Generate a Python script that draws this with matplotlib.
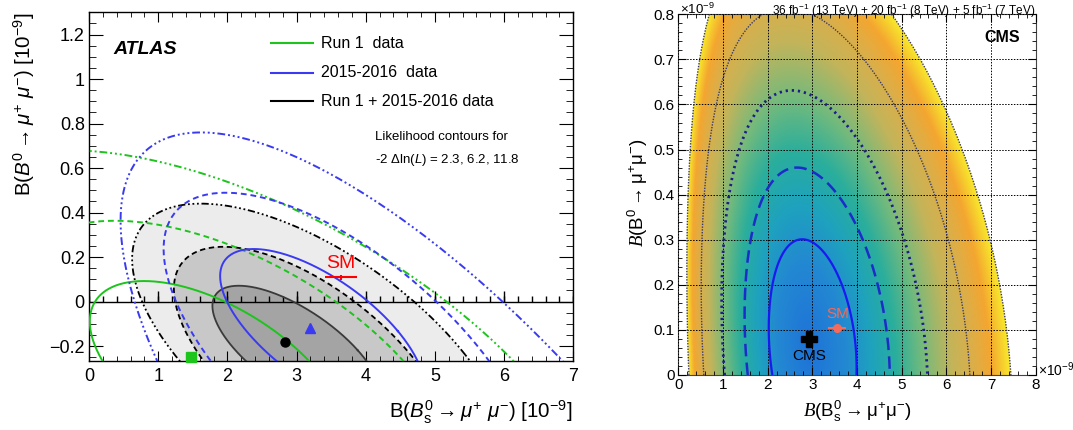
import numpy as np
import matplotlib
matplotlib.use("Agg")
import matplotlib.pyplot as plt
from matplotlib.colors import LinearSegmentedColormap

plt.rcParams['font.family'] = ['Liberation Sans', 'DejaVu Sans']
plt.rcParams['mathtext.fontset'] = 'custom'
plt.rcParams['mathtext.rm'] = 'Liberation Sans'
plt.rcParams['mathtext.it'] = 'Liberation Sans:italic'
plt.rcParams['mathtext.bf'] = 'Liberation Sans:bold'
plt.rcParams['mathtext.cal'] = 'Liberation Serif:italic'

# ---------------- ATLAS (left) ----------------
# contours as sheared ellipses: centre, half height b, half width w, shear s
# order: 2.3, 6.2, 11.8
run1_cx = [1.864, 2.134, 2.625]
run1_cy = [-0.338, -0.337, -0.320]
run1_b = [0.43, 0.70, 1.00]
run1_w = [1.513, 2.598, 3.669]
run1_s = [-2.486, -2.52, -2.925]

run2_cx = [3.37, 3.78, 5.42]
run2_cy = [-0.133, -0.271, -0.94]
run2_b = [0.369, 0.76, 1.70]
run2_w = [1.094, 2.012, 3.19]
run2_s = [-2.68, -2.372, -2.237]

comb_cx = [3.00, 3.23, 3.34]
comb_cy = [-0.219, -0.284, -0.24]
comb_b = [0.29, 0.53, 0.68]
comb_w = [0.884, 1.534, 2.10]
comb_s = [-2.88, -2.43, -2.535]

run1_best = (1.47, -0.248)
run2_best = (3.19, -0.12)
comb_best = (2.83, -0.183)
atlas_sm = (3.64, 0.109)
atlas_sm_xerr = 0.23

atlas_xticks = [0, 1, 2, 3, 4, 5, 6, 7]
atlas_yticks = [-0.2, 0, 0.2, 0.4, 0.6, 0.8, 1.0, 1.2]
atlas_ylabels = ['\u22120.2', '0', '0.2', '0.4', '0.6', '0.8', '1', '1.2']

# ---------------- CMS (right) ----------------
cms_power = 0.65
cms_u0 = 2.04
cms_shear = -0.33
cms_cy = 0.06
cms_su = 0.431
cms_sy = 0.241
cms_levels = [1.0, 1.66, 2.37, 3.13, 3.83]
cms_best = (2.93, 0.079)
cms_sm = (3.56, 0.104)
cms_sm_xerr = 0.2
cms_xticks = [0, 1, 2, 3, 4, 5, 6, 7, 8]
cms_yticks = [0, 0.1, 0.2, 0.3, 0.4, 0.5, 0.6, 0.7, 0.8]
cms_ylabels = ['0', '0.1', '0.2', '0.3', '0.4', '0.5', '0.6', '0.7', '0.8']
cms_colors = ["#1e72d8", "#2388d2", "#1ea2be", "#2aae9c", "#74ba7c",
              "#c4b45a", "#dcae48", "#f4a630", "#f8e82c"]
cms_nodes = [0, 0.2, 0.34, 0.47, 0.6, 0.74, 0.84, 0.92, 1.0]


def ellipse(cx, cy, b, w, s):
    t = np.linspace(0, 2 * np.pi, 500)
    return cx + s * b * np.sin(t) + w * np.cos(t), cy + b * np.sin(t)


fig = plt.figure(figsize=(10.73, 4.30), dpi=100)
W, H = 1073, 430

# ======== left panel ========
ax = fig.add_axes([89 / W, 1 - 360.7 / H, 484.3 / W, 348.4 / H])
ax.set_xlim(0, 7)
ax.set_ylim(-0.266, 1.3)

greys = ['#a4a4a4', '#c8c8c8', '#ececec']
for i in [2, 1, 0]:
    ex, ey = ellipse(comb_cx[i], comb_cy[i], comb_b[i], comb_w[i], comb_s[i])
    ax.fill(ex, ey, color=greys[i], lw=0, zorder=1)

dash = (0, (3, 2))
ddd = (0, (4, 1.5, 1, 1.5, 1, 1.5, 1, 1.5))
styles = ['-', dash, ddd]

ax.axhline(0, color='k', lw=1.0, zorder=2)
minor = np.arange(0, 7.01, 0.2)
ax.vlines(minor, 0, 0.027, color='k', lw=1.0, zorder=2)
ax.vlines(atlas_xticks, 0, 0.049, color='k', lw=1.0, zorder=2)

for i in range(3):
    ex, ey = ellipse(comb_cx[i], comb_cy[i], comb_b[i], comb_w[i], comb_s[i])
    ax.plot(ex, ey, color='#3a3a3a' if i == 0 else 'k', ls=styles[i], lw=1.3, zorder=3)
for i in range(3):
    ex, ey = ellipse(run1_cx[i], run1_cy[i], run1_b[i], run1_w[i], run1_s[i])
    ax.plot(ex, ey, color='#1cc41c', ls=styles[i], lw=1.4, zorder=4)
for i in range(3):
    ex, ey = ellipse(run2_cx[i], run2_cy[i], run2_b[i], run2_w[i], run2_s[i])
    ax.plot(ex, ey, color='#3a3af2', ls=styles[i], lw=1.4, zorder=4)

ax.plot(*comb_best, 'o', color='k', ms=6.5, zorder=6)
ax.plot(*run2_best, '^', color='#3a3af2', ms=6.5, zorder=6)
ax.plot(*run1_best, 's', color='#1cc41c', ms=6.5, zorder=6, clip_on=False)
ax.errorbar(atlas_sm[0], atlas_sm[1], xerr=atlas_sm_xerr, yerr=0.012,
            color='red', lw=1.5, capsize=0, zorder=6)
ax.text(atlas_sm[0], atlas_sm[1] + 0.022, 'SM', color='red', fontsize=14,
        ha='center', va='bottom', zorder=6)

ax.set_xticks(atlas_xticks)
ax.set_xticks(minor, minor=True)
ax.set_yticks(atlas_yticks)
ax.set_yticklabels(atlas_ylabels)
ax.set_yticks(np.arange(-0.25, 1.3, 0.05), minor=True)
ax.tick_params(which='both', direction='in', top=True, right=True, labelsize=13)
ax.tick_params(axis='x', which='major', length=7, pad=5)
ax.tick_params(axis='x', which='minor', length=3.6)
ax.tick_params(axis='y', which='major', length=10, pad=3)
ax.tick_params(axis='y', which='minor', length=5)
for sp in ax.spines.values():
    sp.set_linewidth(1.0)

ax.text(0.05, 0.894, 'ATLAS', transform=ax.transAxes, fontsize=14,
        fontweight='bold', style='italic', va='center')
leg_names = ['Run 1  data', '2015-2016  data', 'Run 1 + 2015-2016 data']
leg_colors = ['#1cc41c', '#3a3af2', 'k']
leg_y = [0.911, 0.827, 0.744]
for name, c, yy in zip(leg_names, leg_colors, leg_y):
    ax.plot([0.376, 0.462], [yy, yy], color=c, lw=1.5, transform=ax.transAxes)
    ax.text(0.48, yy, name, transform=ax.transAxes, fontsize=11.5, va='center')
ax.text(0.59, 0.643, 'Likelihood contours for', transform=ax.transAxes,
        fontsize=9.5, va='center')
ax.text(0.59, 0.576, r'-2 $\Delta$ln($\mathit{L}$) = 2.3, 6.2, 11.8',
        transform=ax.transAxes, fontsize=9.5, va='center')

fig.text(24 / W, 1 - 12 / H,
         r'B($\mathit{B}^{0}\rightarrow\mathit{\mu}^{+}\ \mathit{\mu}^{-}$) [$10^{-9}$]',
         rotation=90, ha='center', va='top', fontsize=14.8)
fig.text(573 / W, 1 - 412 / H,
         r'B($\mathit{B}_{\mathrm{s}}^{0}\rightarrow\mathit{\mu}^{+}\ \mathit{\mu}^{-}$) [$10^{-9}$]',
         ha='right', va='center', fontsize=14.8)

# ======== right panel ========
bx = fig.add_axes([678.3 / W, 1 - 375 / H, 357.4 / W, 360.7 / H])
bx.set_xlim(0, 8)
bx.set_ylim(0, 0.8)

xg = np.linspace(0, 8, 600)
yg = np.linspace(0, 0.8, 400)
X, Y = np.meshgrid(xg, yg)
U = X ** cms_power
K = np.sqrt(((U - (cms_u0 + cms_shear * Y)) / cms_su) ** 2 +
            ((Y - cms_cy) / cms_sy) ** 2)
cmap = LinearSegmentedColormap.from_list('cms', list(zip(cms_nodes, cms_colors)))
cmap.set_bad('white')
Km = np.ma.masked_greater(K, cms_levels[-1])
bx.imshow(Km, extent=[0, 8, 0, 0.8], origin='lower', aspect='auto',
          cmap=cmap, vmin=0, vmax=cms_levels[-1], interpolation='bilinear', zorder=0)

bx.contour(X, Y, K, levels=[cms_levels[0]], colors='#1a1af0', linewidths=1.6, zorder=3)
bx.contour(X, Y, K, levels=[cms_levels[1]], colors='#1c2cc8', linewidths=1.8,
           linestyles=[(0, (5, 2.5))], zorder=3)
bx.contour(X, Y, K, levels=[cms_levels[2]], colors='#1c1c8a', linewidths=2.0,
           linestyles=[(0, (0.8, 1.4))], zorder=3)
bx.contour(X, Y, K, levels=cms_levels[3:], colors='#3a3a6a', linewidths=1.0,
           linestyles=[(0, (1, 1))], zorder=3)

bx.set_xticks(cms_xticks)
bx.set_yticks(cms_yticks)
bx.set_yticklabels(cms_ylabels)
bx.set_xticks(np.arange(0, 8.01, 0.2), minor=True)
bx.set_yticks(np.arange(0, 0.801, 0.02), minor=True)
bx.grid(True, which='major', color='k', ls=(0, (1.5, 1.5)), lw=0.7, zorder=2)
bx.set_axisbelow(False)
bx.tick_params(which='both', direction='in', top=True, right=True, labelsize=11)
bx.tick_params(which='major', length=5.5, pad=2.5)
bx.tick_params(which='minor', length=3)
for sp in bx.spines.values():
    sp.set_linewidth(0.8)
    sp.set_color('#444444')

bx.plot(*cms_best, 'P', color='k', ms=11, zorder=6)
bx.text(cms_best[0], cms_best[1] - 0.022, 'CMS', fontsize=11, ha='center', va='top', zorder=6)
bx.errorbar(cms_sm[0], cms_sm[1], xerr=cms_sm_xerr, fmt='o', color='#f26b5b',
            ms=5.5, lw=1.5, capsize=0, zorder=6)
bx.text(cms_sm[0], cms_sm[1] + 0.015, 'SM', color='#f26b5b', fontsize=11,
        ha='center', va='bottom', zorder=6)
bx.text(0.955, 0.935, 'CMS', transform=bx.transAxes, fontsize=11.5,
        fontweight='bold', ha='right', va='center')

fig.text(1035 / W, 1 - 1.5 / H,
         r'36 fb$^{-1}$ (13 TeV) + 20 fb$^{-1}$ (8 TeV) + 5 fb$^{-1}$ (7 TeV)',
         ha='right', va='top', fontsize=8.5)
fig.text(680 / W, 1 - 1.5 / H, r'$\times10^{-9}$', ha='left', va='top', fontsize=9.5)
fig.text(1038 / W, 1 - 370 / H, r'$\times10^{-9}$', ha='left', va='center', fontsize=10)
fig.text(638 / W, 1 - 193 / H,
         r'$\mathcal{B}$(B$^{0}\rightarrow\mathrm{\mu}^{+}\mathrm{\mu}^{-}$)',
         rotation=90, ha='center', va='center', fontsize=13.5)
fig.text(857 / W, 1 - 411 / H,
         r'$\mathcal{B}$(B$_{\mathrm{s}}^{0}\rightarrow\mathrm{\mu}^{+}\mathrm{\mu}^{-}$)',
         ha='center', va='center', fontsize=13.5)

fig.savefig('out.png', dpi=100)
